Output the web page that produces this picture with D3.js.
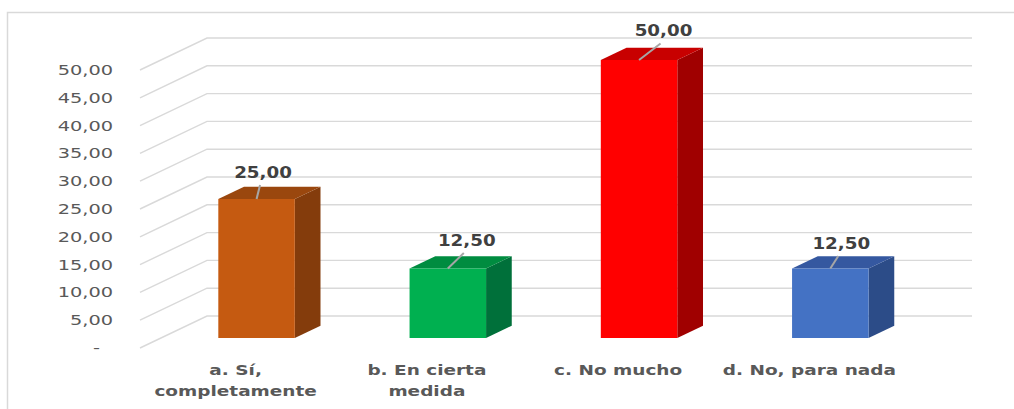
<!DOCTYPE html>
<html>
<head>
<meta charset="utf-8">
<script src="https://cdn.jsdelivr.net/npm/d3@7/dist/d3.min.js"></script>
<style>
  html, body { margin: 0; padding: 0; background: #fff; }
  svg { display: block; }
</style>
</head>
<body>
<svg id="chart" width="1014" height="409"></svg>
<script>
// ---- data ----
const categories = ["a. Sí, completamente", "b. En cierta medida", "c. No mucho", "d. No, para nada"];
const categoryLines = [["a. Sí,", "completamente"], ["b. En cierta", "medida"], ["c. No mucho"], ["d. No, para nada"]];
const values = [25, 12.5, 50, 12.5];
const tickValues = [0, 5, 10, 15, 20, 25, 30, 35, 40, 45, 50];

// ---- styles ----
const frontColors = ["#C55A11", "#00B050", "#FF0000", "#4472C4"];
const topColors   = ["#9A470E", "#008C40", "#C80000", "#3558A0"];
const sideColors  = ["#843C0C", "#00703A", "#A00000", "#2C4C88"];
const labelNudge  = [[6.5, -27], [19, -28.5], [24.5, -29.5], [11, -25.5]];

const svg = d3.select("#chart");
const loc = d3.formatLocale({ decimal: ",", thousands: ".", grouping: [3], currency: ["", ""] });
const fmt = loc.format(".2f");

// plot geometry (front plane)
const x0 = 140, x1 = 905;
const yScale = d3.scaleLinear().domain([0, 50]).range([348, 70]);
const xScale = d3.scaleBand().domain(categories).range([x0, x1]).paddingInner(0.6).paddingOuter(0.3);
const DX = 67, DY = -32;        // full depth offset
const z0 = 0.3125, z1 = 0.696;  // bar depth span

// border
svg.append("rect").attr("x", 7.5).attr("y", 12.5).attr("width", 1100).attr("height", 500)
  .attr("fill", "none").attr("stroke", "#D9D9D9").attr("stroke-width", 1.5);

// gridlines: side wall + back wall
const grid = svg.append("g").attr("stroke", "#D9D9D9").attr("stroke-width", 1.4).attr("fill", "none");
tickValues.forEach(t => {
  const y = yScale(t);
  grid.append("path").attr("d", `M${x0},${y}L${x0 + DX},${y + DY}L${x1 + DX},${y + DY}`);
});

// y tick labels
const tickG = svg.append("g");
tickValues.forEach(t => {
  const y = yScale(t);
  const xr = t === 0 ? 100 : 113;
  tickG.append("text")
    .attr("transform", `translate(${xr},${y + 5}) scale(1.38,1)`)
    .attr("text-anchor", "end")
    .attr("font-family", "DejaVu Sans")
    .attr("font-size", 14)
    .attr("fill", "#595959")
    .text(t === 0 ? "-" : fmt(t));
});

// bars
const bars = svg.append("g");
categories.forEach((c, i) => {
  const xb = xScale(c), bw = xScale.bandwidth();
  const yt = yScale(values[i]), yb = yScale(0);
  const dx0 = z0 * DX, dy0 = z0 * DY, dx1 = z1 * DX, dy1 = z1 * DY;
  // side
  bars.append("path")
    .attr("d", `M${xb + bw + dx0},${yt + dy0}L${xb + bw + dx1},${yt + dy1}L${xb + bw + dx1},${yb + dy1}L${xb + bw + dx0},${yb + dy0}Z`)
    .attr("fill", sideColors[i]);
  // top
  bars.append("path")
    .attr("d", `M${xb + dx0},${yt + dy0}L${xb + bw + dx0},${yt + dy0}L${xb + bw + dx1},${yt + dy1}L${xb + dx1},${yt + dy1}Z`)
    .attr("fill", topColors[i]);
  // front
  bars.append("rect")
    .attr("x", xb + dx0).attr("y", yt + dy0)
    .attr("width", bw).attr("height", yb - yt)
    .attr("fill", frontColors[i]);

  // data label + leader line
  const ax = xb + dx0 + bw / 2, ay = yt + dy0;
  const lx = ax + labelNudge[i][0], ly = ay + labelNudge[i][1];
  bars.append("line")
    .attr("x1", ax).attr("y1", ay).attr("x2", lx - 3).attr("y2", ly + 13)
    .attr("stroke", "#A6A6A6").attr("stroke-width", 2);
  bars.append("text")
    .attr("transform", `translate(${lx},${ly + 5.5}) scale(1.22,1)`)
    .attr("text-anchor", "middle")
    .attr("font-family", "DejaVu Sans")
    .attr("font-weight", "bold")
    .attr("font-size", 15)
    .attr("fill", "#404040")
    .text(fmt(values[i]));
});

// category labels
const catG = svg.append("g");
categories.forEach((c, i) => {
  const cx = xScale(c) + xScale.bandwidth() / 2;
  categoryLines[i].forEach((line, j) => {
    catG.append("text")
      .attr("transform", `translate(${cx},${375 + j * 21}) scale(1.32,1)`)
      .attr("text-anchor", "middle")
      .attr("font-family", "DejaVu Sans")
      .attr("font-weight", "bold")
      .attr("font-size", 14)
      .attr("fill", "#595959")
      .text(line);
  });
});
</script>
</body>
</html>
